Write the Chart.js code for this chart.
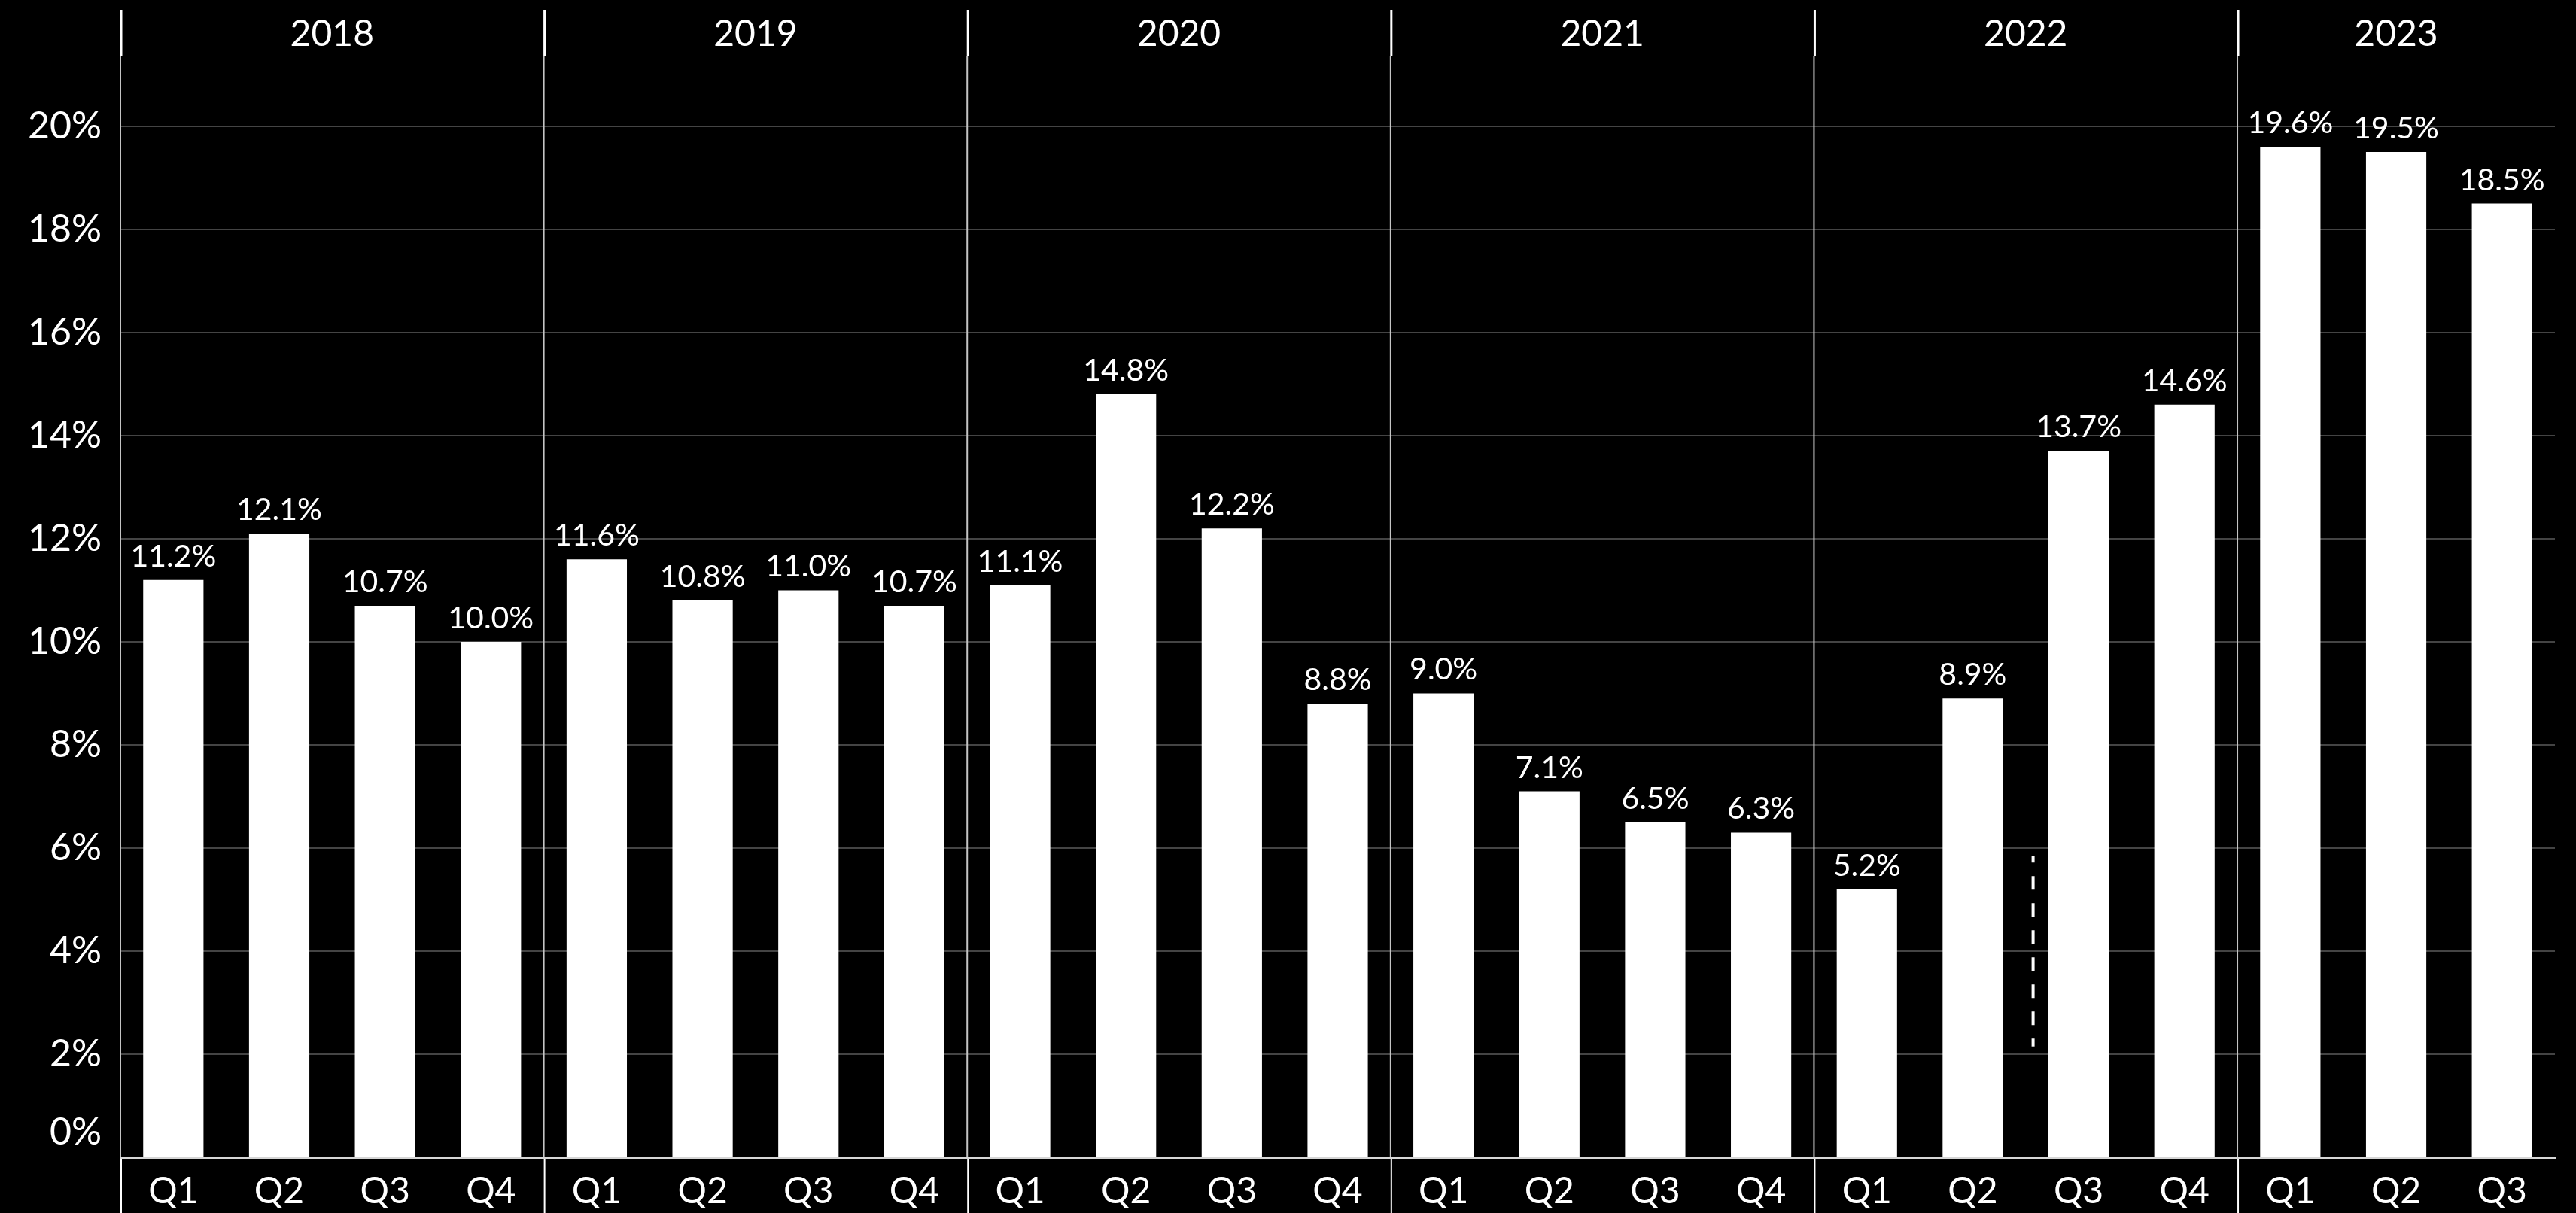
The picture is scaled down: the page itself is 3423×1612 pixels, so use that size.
<!DOCTYPE html>
<html>
<head>
<meta charset="utf-8">
<title>Quarterly rate 2018-2023</title>
<script src="https://cdn.jsdelivr.net/npm/chart.js@4.4.1/dist/chart.umd.min.js"></script>
<style>
    html, body { margin: 0; padding: 0; background: #000; }
    #wrap { width: 3423px; height: 1612px; }
</style>
</head>
<body>
<div id="wrap"><canvas id="myChart" width="3423" height="1612"></canvas></div>
<script>
const years = ['2018', '2019', '2020', '2021', '2022', '2023'];
const quarterCounts = [4, 4, 4, 4, 4, 3];
const quarterLabels = [
    'Q1', 'Q2', 'Q3', 'Q4',
    'Q1', 'Q2', 'Q3', 'Q4',
    'Q1', 'Q2', 'Q3', 'Q4',
    'Q1', 'Q2', 'Q3', 'Q4',
    'Q1', 'Q2', 'Q3', 'Q4',
    'Q1', 'Q2', 'Q3'
];
const values = [
    11.2, 12.1, 10.7, 10.0,
    11.6, 10.8, 11.0, 10.7,
    11.1, 14.8, 12.2, 8.8,
    9.0, 7.1, 6.5, 6.3,
    5.2, 8.9, 13.7, 14.6,
    19.6, 19.5, 18.5
];
const yMax = 21.37;
const yStep = 2;
// dashed marker between 2022 Q2 and Q3 (category position, value range)
const markerPos = 17.57;
const markerRange = [2.15, 5.85];

const fontFamily = 'Lato, "Open Sans", sans-serif';
const fontWeight = 400;

// year headers, group separators, value labels, marker
const groupPlugin = {
    id: 'groups',
    afterDraw(chart) {
        const { ctx, chartArea, scales: { x, y } } = chart;
        ctx.save();

        // separators + year labels
        let start = 0;
        years.forEach((yr, i) => {
            const n = quarterCounts[i];
            const left = x.getPixelForValue(start - 0.5);
            const right = x.getPixelForValue(start + n - 0.5);

            ctx.strokeStyle = '#c4c4c4';
            ctx.lineWidth = 2;
            ctx.beginPath();
            ctx.moveTo(left, chartArea.top);
            ctx.lineTo(left, chartArea.bottom);
            ctx.stroke();

            ctx.strokeStyle = '#ffffff';
            ctx.lineWidth = 3;
            ctx.beginPath();
            ctx.moveTo(left + 1, 13);
            ctx.lineTo(left + 1, chartArea.top);
            ctx.stroke();

            ctx.lineWidth = 2;
            ctx.beginPath();
            ctx.moveTo(left + 1, chartArea.bottom + 2);
            ctx.lineTo(left + 1, chart.height);
            ctx.stroke();

            ctx.fillStyle = '#ffffff';
            ctx.font = `${fontWeight} 48px ${fontFamily}`;
            ctx.textAlign = 'center';
            ctx.textBaseline = 'middle';
            ctx.fillText(yr, (left + right) / 2, 46);
            start += n;
        });

        // 0% label sits a bit above the axis
        ctx.font = `${fontWeight} 50px ${fontFamily}`;
        ctx.textAlign = 'right';
        ctx.textBaseline = 'middle';
        ctx.fillText('0%', y.right - 25, y.getPixelForValue(0) - 33);

        // value labels
        const meta = chart.getDatasetMeta(0);
        ctx.font = `${fontWeight} 41px ${fontFamily}`;
        ctx.textAlign = 'center';
        ctx.textBaseline = 'alphabetic';
        meta.data.forEach((bar, i) => {
            ctx.fillText(values[i].toFixed(1) + '%', bar.x, bar.y - 18);
        });

        // dashed marker
        const mx = x.getPixelForValue(markerPos);
        ctx.strokeStyle = '#ffffff';
        ctx.lineWidth = 4;
        ctx.setLineDash([18, 18]);
        ctx.lineDashOffset = 9;
        ctx.beginPath();
        ctx.moveTo(mx, y.getPixelForValue(markerRange[1]));
        ctx.lineTo(mx, y.getPixelForValue(markerRange[0]));
        ctx.stroke();

        ctx.restore();
    }
};

const ctx = document.getElementById('myChart').getContext('2d');
window.myChart = new Chart(ctx, {
    type: 'bar',
    data: {
        labels: quarterLabels,
        datasets: [{
            data: values,
            backgroundColor: '#ffffff',
            borderWidth: 0,
            categoryPercentage: 1,
            barPercentage: 0.57
        }]
    },
    options: {
        responsive: false,
        animation: false,
        devicePixelRatio: 1,
        layout: { padding: { top: 74, right: 28, left: 0, bottom: 0 } },
        plugins: {
            legend: { display: false },
            tooltip: { enabled: false }
        },
        scales: {
            x: {
                grid: { display: false },
                border: { display: true, color: '#d6d6d6', width: 3 },
                ticks: {
                    color: '#ffffff',
                    font: { family: fontFamily, size: 48, weight: fontWeight },
                    padding: 9,
                    maxRotation: 0,
                    autoSkip: false
                },
                afterFit: scale => { scale.height = 74; }
            },
            y: {
                min: 0,
                max: yMax,
                grid: { color: '#444444', lineWidth: 2, drawTicks: false },
                border: { display: false },
                ticks: {
                    stepSize: yStep,
                    color: '#ffffff',
                    font: { family: fontFamily, size: 50, weight: fontWeight },
                    padding: 25,
                    callback: v => v === 0 ? '' : v + '%'
                },
                afterBuildTicks: scale => {
                    scale.ticks = scale.ticks.filter(t => t.value % yStep === 0);
                },
                afterFit: scale => { scale.width = 160; }
            }
        }
    },
    plugins: [groupPlugin]
});
</script>
</body>
</html>
